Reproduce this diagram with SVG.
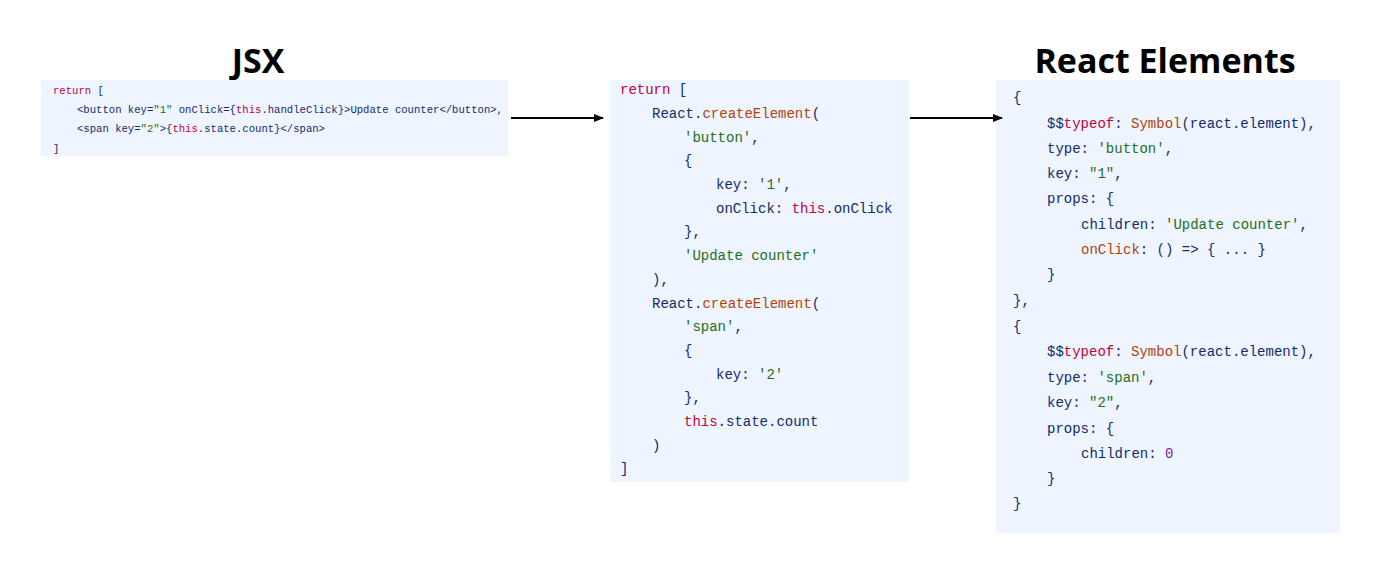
<svg xmlns="http://www.w3.org/2000/svg" width="1400" height="569" viewBox="0 0 1400 569">
<style>
.box{fill:#eef5fe}
.t{font-family:"Liberation Mono","DejaVu Sans Mono",monospace;fill:#132a6b}
.s{font-size:10.6px}
.m{font-size:14px}
.r{fill:#c2003e}.g{fill:#1d6e1d}.o{fill:#b3400c}.p{fill:#7b1fa2}
.h{font-family:"Open Sans","Noto Sans",sans-serif;font-weight:bold;font-size:34px;fill:#000;text-anchor:middle}
</style>
<defs><marker id="a" markerWidth="10" markerHeight="8" refX="9" refY="4" orient="auto" markerUnits="userSpaceOnUse"><path d="M0,0L10,4L0,8z" fill="#000"/></marker></defs>
<g id="jsx">
<text class="h" x="258" y="73">JSX</text>
<rect class="box" x="41" y="80" width="467" height="76"/>
<g class="t s">
<text x="53" y="94"><tspan class="r">return</tspan> [</text>
<text x="77" y="113">&lt;button key=<tspan class="g">"1"</tspan> onClick={<tspan class="r">this</tspan>.handleClick}&gt;Update counter&lt;/button&gt;,</text>
<text x="77" y="132">&lt;span key=<tspan class="g">"2"</tspan>&gt;{<tspan class="r">this</tspan>.state.count}&lt;/span&gt;</text>
<text x="53" y="152">]</text>
</g></g>
<g id="create">
<rect class="box" x="610" y="80" width="299" height="402"/>
<g class="t m">
<text x="620" y="94"><tspan class="r">return</tspan> [</text>
<text x="652" y="118">React.<tspan class="o">createElement</tspan>(</text>
<text x="684" y="142"><tspan class="g">'button'</tspan>,</text>
<text x="684" y="165">{</text>
<text x="716" y="189">key: <tspan class="g">'1'</tspan>,</text>
<text x="716" y="213">onClick: <tspan class="r">this</tspan>.onClick</text>
<text x="684" y="236">},</text>
<text x="684" y="260"><tspan class="g">'Update counter'</tspan></text>
<text x="652" y="284">),</text>
<text x="652" y="308">React.<tspan class="o">createElement</tspan>(</text>
<text x="684" y="331"><tspan class="g">'span'</tspan>,</text>
<text x="684" y="355">{</text>
<text x="716" y="379">key: <tspan class="g">'2'</tspan></text>
<text x="684" y="402">},</text>
<text x="684" y="426"><tspan class="r">this</tspan>.state.count</text>
<text x="652" y="450">)</text>
<text x="620" y="473">]</text>
</g></g>
<g id="elements">
<text class="h" x="1165" y="73">React Elements</text>
<rect class="box" x="996" y="80" width="344" height="453"/>
<g class="t m">
<text x="1013" y="102">{</text>
<text x="1047" y="128">$$<tspan class="r">typeof</tspan>: <tspan class="o">Symbol</tspan>(react.element),</text>
<text x="1047" y="153">type: <tspan class="g">'button'</tspan>,</text>
<text x="1047" y="178">key: <tspan class="g">"1"</tspan>,</text>
<text x="1047" y="203">props: {</text>
<text x="1081" y="229">children: <tspan class="g">'Update counter'</tspan>,</text>
<text x="1081" y="254"><tspan class="o">onClick</tspan>: () =&gt; { ... }</text>
<text x="1047" y="279">}</text>
<text x="1013" y="305">},</text>
<text x="1013" y="331">{</text>
<text x="1047" y="356">$$<tspan class="r">typeof</tspan>: <tspan class="o">Symbol</tspan>(react.element),</text>
<text x="1047" y="382">type: <tspan class="g">'span'</tspan>,</text>
<text x="1047" y="407">key: <tspan class="g">"2"</tspan>,</text>
<text x="1047" y="433">props: {</text>
<text x="1081" y="458">children: <tspan class="p">0</tspan></text>
<text x="1047" y="483">}</text>
<text x="1013" y="508">}</text>
</g></g>
<g id="connectors" stroke="#000" stroke-width="2" fill="none">
<line x1="511" y1="118" x2="603" y2="118" marker-end="url(#a)"/>
<line x1="910" y1="118" x2="1002" y2="118" marker-end="url(#a)"/>
</g>
</svg>
